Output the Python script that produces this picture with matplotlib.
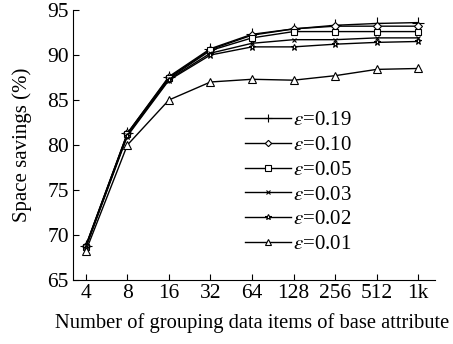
import matplotlib
matplotlib.use('Agg')
import matplotlib.pyplot as plt
import numpy as np

plt.rcParams['font.family'] = ['Liberation Serif', 'DejaVu Serif']
plt.rcParams['mathtext.fontset'] = 'stix'

# data
groups = ['4', '8', '16', '32', '64', '128', '256', '512', '1k']
eps_019 = [68.8, 81.3, 87.6, 90.7, 92.3, 92.9, 93.3, 93.5, 93.6]
eps_010 = [68.8, 81.3, 87.5, 90.6, 92.2, 92.9, 93.2, 93.2, 93.2]
eps_005 = [68.7, 81.2, 87.4, 90.5, 91.9, 92.6, 92.6, 92.6, 92.6]
eps_003 = [68.7, 81.1, 87.3, 90.2, 91.3, 91.7, 91.7, 91.9, 91.9]
eps_002 = [68.6, 81.0, 87.2, 90.0, 90.9, 90.9, 91.2, 91.4, 91.5]
eps_001 = [68.2, 80.0, 85.0, 87.0, 87.3, 87.2, 87.7, 88.4, 88.5]

series = [
    (eps_019, '+', 8, r'$\varepsilon$=0.19'),
    (eps_010, 'D', 4, r'$\varepsilon$=0.10'),
    (eps_005, 's', 5, r'$\varepsilon$=0.05'),
    (eps_003, 'x', 3, r'$\varepsilon$=0.03'),
    (eps_002, '*', 5, r'$\varepsilon$=0.02'),
    (eps_001, '^', 6, r'$\varepsilon$=0.01'),
]

fig = plt.figure(figsize=(4.53, 3.44), dpi=100)
ax = fig.add_axes([0.161, 0.186, 0.799, 0.785])

x = np.arange(len(groups))
for vals, mk, ms, lab in series:
    ax.plot(x, vals, color='black', lw=1.0, marker=mk, markersize=ms,
            markerfacecolor='white', markeredgecolor='black', markeredgewidth=0.8,
            label=lab)

ax.set_xlim(-0.31, 8.4)
ax.set_ylim(65, 95)
ax.set_xticks(x)
ax.set_xticklabels(groups)
ax.set_yticks([65, 70, 75, 80, 85, 90, 95])
ax.tick_params(direction='in', labelsize=15.5, length=4, width=0.8, pad=3)
ax.spines['top'].set_visible(False)
ax.spines['right'].set_visible(False)

ax.set_ylabel('Space savings (%)', fontsize=15, labelpad=11)
ax.set_xlabel('Number of grouping data items of base attribute', fontsize=14.8)
ax.xaxis.set_label_coords(0.494, -0.122)

ax.legend(loc='upper left', bbox_to_anchor=(0.475, 0.627), frameon=False,
          fontsize=15, handlelength=2.2, handletextpad=0.1, labelspacing=0.25,
          borderpad=0, borderaxespad=0, markerscale=0.8)

fig.savefig('out.png', dpi=100)
